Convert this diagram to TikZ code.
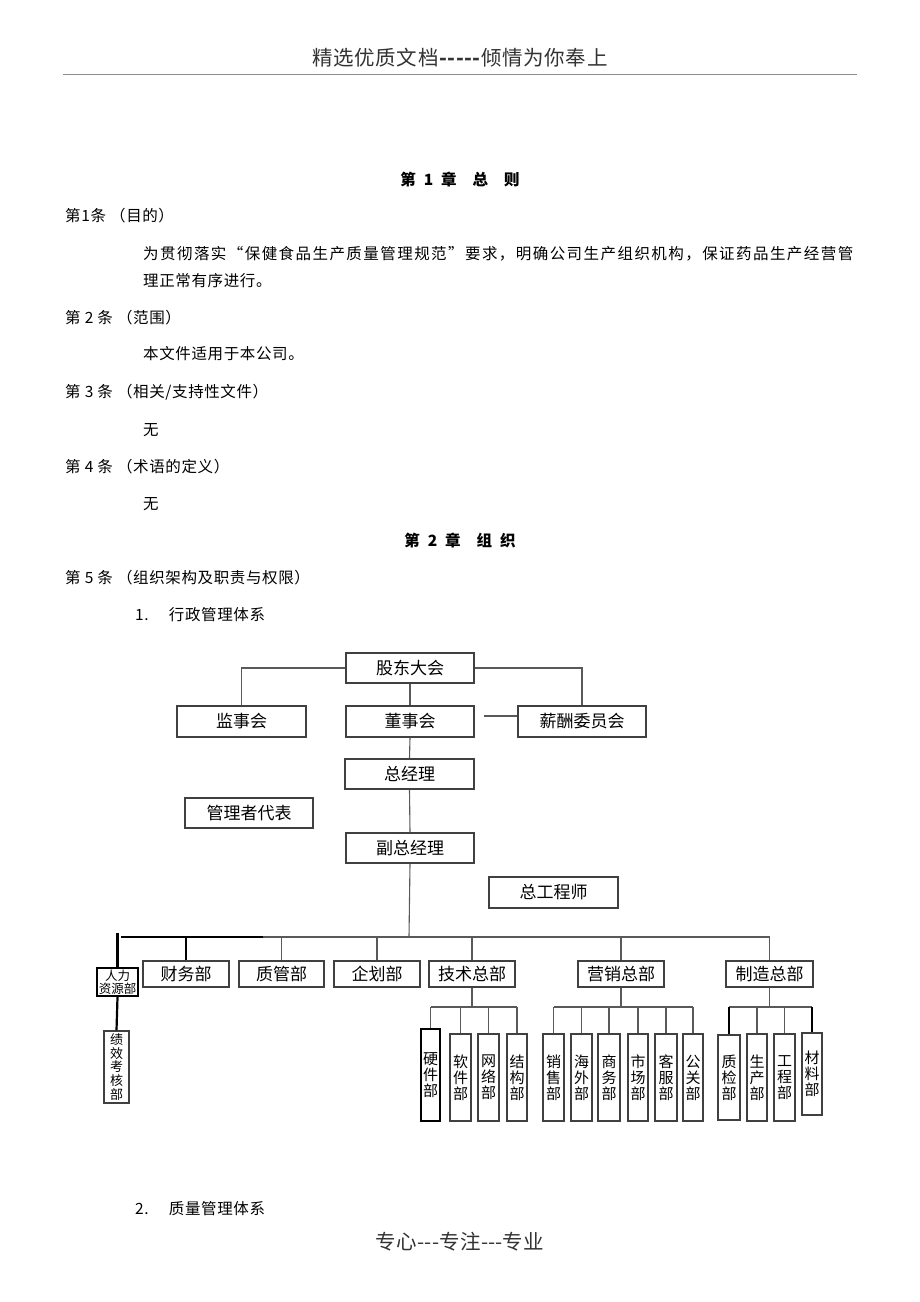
\documentclass[tikz,border=0pt]{standalone}
\usepackage{fontspec}
\setmainfont{Noto Sans CJK SC}
\newcommand\dsh{\textbf{-}\kern0pt}
\newcommand\dshn{-\kern0pt}
\begin{document}
\begin{tikzpicture}[x=1pt,y=-1pt,
  bx/.style={draw=black!75, line width=1.1pt, fill=white, inner sep=0pt, font=\fontsize{17}{19}\selectfont},
  mbx/.style={bx, minimum width=86pt, minimum height=26pt},
  sbx/.style={draw=black!75, line width=1.1pt, fill=white, inner sep=0pt, minimum width=21pt, minimum height=87pt, align=center, font=\fontsize{15}{16}\selectfont},
  thkbox/.style={line width=2.4pt, draw=black},
  ln/.style={draw=black!65, line width=1.1pt},
  thk/.style={draw=black, line width=2.2pt},
  body/.style={anchor=west, inner sep=0pt, font=\fontsize{15.5}{17}\selectfont\addfontfeature{LetterSpace=4}},
  head/.style={inner sep=0pt, font=\fontsize{15.5}{17}\selectfont\bfseries},
  pagetxt/.style={inner sep=0pt, font=\fontsize{20.5}{22}\selectfont\addfontfeature{LetterSpace=3}, text=black!80},
]
\useasboundingbox (0,0) rectangle (920,1302);
\fill[white] (0,0) rectangle (920,1302);

% header and footer
\node[pagetxt] (hdr) at (460,58) {精选优质文档\dsh\dsh\dsh\dsh\dsh 倾情为你奉上};
\draw[black!45, line width=0.8pt] (63,74) -- (857,74);
\node[pagetxt] (ftr) at (460,1242) {专心\dshn\dshn\dshn 专注\dshn\dshn\dshn 专业};

% text
\node[head] (ch1) at (460,180) {第\hspace{8pt}1\hspace{8pt}章\hspace{16pt}总\hspace{16pt}则};
\node[body] (a1) at (65,216) {第1条 （目的）};
\node[body, font=\fontsize{15.5}{17}\selectfont\addfontfeature{LetterSpace=9.3}] (p1) at (143,254) {为贯彻落实“保健食品生产质量管理规范”要求，明确公司生产组织机构，保证药品生产经营管};
\node[body] (p2) at (143,281) {理正常有序进行。};
\node[body] (a2) at (65,318) {第 2 条 （范围）};
\node[body] (t2) at (143,354) {本文件适用于本公司。};
\node[body] (a3) at (65,392) {第 3 条 （相关/支持性文件）};
\node[body] (t3) at (143,430) {无};
\node[body] (a4) at (65,467) {第 4 条 （术语的定义）};
\node[body] (t4) at (143,504) {无};
\node[head] (ch2) at (460,541) {第\hspace{8pt}2\hspace{8pt}章\hspace{16pt}组\hspace{8pt}织};
\node[body] (a5) at (65,578) {第 5 条 （组织架构及职责与权限）};
\node[body] (s1) at (135,615) {1.　 行政管理体系};
\node[body] (s2) at (135,1209) {2.　 质量管理体系};

% org chart boxes
\node[bx, minimum width=128pt, minimum height=30pt] (gd) at (410,668) {股东大会};
\node[bx, minimum width=129pt, minimum height=31pt] (js) at (241.5,721.5) {监事会};
\node[bx, minimum width=128pt, minimum height=31pt] (ds) at (410,721.5) {董事会};
\node[bx, minimum width=128pt, minimum height=31pt] (xc) at (582,721.5) {薪酬委员会};
\node[bx, minimum width=129pt, minimum height=30pt] (zjl) at (409.5,774) {总经理};
\node[bx, minimum width=128pt, minimum height=30pt] (gld) at (249,813) {管理者代表};
\node[bx, minimum width=128pt, minimum height=30pt] (fz) at (410,848) {副总经理};
\node[bx, minimum width=129pt, minimum height=31pt] (zgc) at (553.5,892.5) {总工程师};

\node[bx, thkbox, minimum width=41pt, minimum height=28pt, align=center, font=\fontsize{12.5}{11.5}\selectfont] (hr) at (117.5,982) {人力\\资源部};
\node[sbx, minimum width=25pt, minimum height=72pt, font=\fontsize{13}{13.6}\selectfont] (jx) at (116.5,1067) {绩\\效\\考\\核\\部};
\node[mbx] (cw) at (186,974) {财务部};
\node[mbx, minimum width=85pt] (zg) at (281.5,974) {质管部};
\node[mbx] (qh) at (377,974) {企划部};
\node[mbx] (jsz) at (472,974) {技术总部};
\node[mbx] (yxz) at (621,974) {营销总部};
\node[mbx, minimum width=87pt] (zzz) at (769.5,974) {制造总部};

\node[sbx, thkbox, minimum width=19pt, minimum height=92pt] (c1) at (430.5,1075) {硬\\件\\部};
\node[sbx] (c2) at (460.5,1077.5) {软\\件\\部};
\node[sbx] (c3) at (488.5,1077.5) {网\\络\\部};
\node[sbx, minimum width=20pt] (c4) at (517,1077.5) {结\\构\\部};
\node[sbx] (d1) at (553.5,1077.5) {销\\售\\部};
\node[sbx] (d2) at (581.5,1077.5) {海\\外\\部};
\node[sbx, minimum width=22pt] (d3) at (609,1077.5) {商\\务\\部};
\node[sbx, minimum width=20pt] (d4) at (638,1077.5) {市\\场\\部};
\node[sbx, minimum width=22pt] (d5) at (666,1077.5) {客\\服\\部};
\node[sbx, minimum width=20pt] (d6) at (693,1077.5) {公\\关\\部};
\node[sbx, minimum width=22pt, minimum height=85pt] (e1) at (729,1077.5) {质\\检\\部};
\node[sbx, minimum width=20pt] (e2) at (757,1077.5) {生\\产\\部};
\node[sbx] (e3) at (784.5,1077.5) {工\\程\\部};
\node[sbx, minimum width=20pt, minimum height=82pt] (e4) at (812,1074) {材\\料\\部};

% connectors top
\draw[ln] (gd.west) -| (js.north);
\draw[ln] (gd.east) -| (xc.north);
\draw[ln] (gd.south) -- (ds.north);
\coordinate (xcl) at (484,716);
\draw[ln] (xcl) -- (xc.west |- xcl);
\draw[ln] (ds.south) -- (zjl.north);
\draw[ln] (zjl.south) -- (fz.north);

% main bus
\coordinate (busJ) at (409,937);
\coordinate (busL) at (121,937);
\coordinate (busT) at (263,937);
\coordinate (busR) at (769.5,937);
\coordinate (hrTop) at (117.5,933);
\draw[ln] (fz.south) -- (busJ);
\draw[ln] (busT) -- (busR);
\draw[thk] (busL) -- (busT);
\draw[thk] (hrTop) -- (hr.north);
\draw[thk] (hr.south) -- (jx.north);
\draw[thk] (cw.north |- busL) -- (cw.north);
\draw[ln] (zg.north |- busL) -- (zg.north);
\draw[ln] (qh.north |- busL) -- (qh.north);
\draw[ln] (jsz.north |- busL) -- (jsz.north);
\draw[ln] (yxz.north |- busL) -- (yxz.north);
\draw[ln] (busR) -- (zzz.north);

% sub buses
\coordinate (sbY) at (0,1007);
\draw[ln] (jsz.south) -- (jsz.south |- sbY);
\draw[ln] (c1.north |- sbY) -- (c4.north |- sbY);
\foreach \c in {c1,c2,c3,c4} \draw[ln] (\c.north |- sbY) -- (\c.north);
\draw[ln] (yxz.south) -- (yxz.south |- sbY);
\draw[ln] (d1.north |- sbY) -- (d6.north |- sbY);
\foreach \c in {d1,d2,d3,d4,d5,d6} \draw[ln] (\c.north |- sbY) -- (\c.north);
\draw[ln] (zzz.south) -- (zzz.south |- sbY);
\draw[ln] (e1.north |- sbY) -- (e4.north |- sbY);
\draw[thk] (e1.north |- sbY) -- (e1.north);
\draw[ln] (e2.north |- sbY) -- (e2.north);
\draw[ln] (e3.north |- sbY) -- (e3.north);
\draw[thk] (e4.north |- sbY) -- (e4.north);
\end{tikzpicture}
\end{document}
